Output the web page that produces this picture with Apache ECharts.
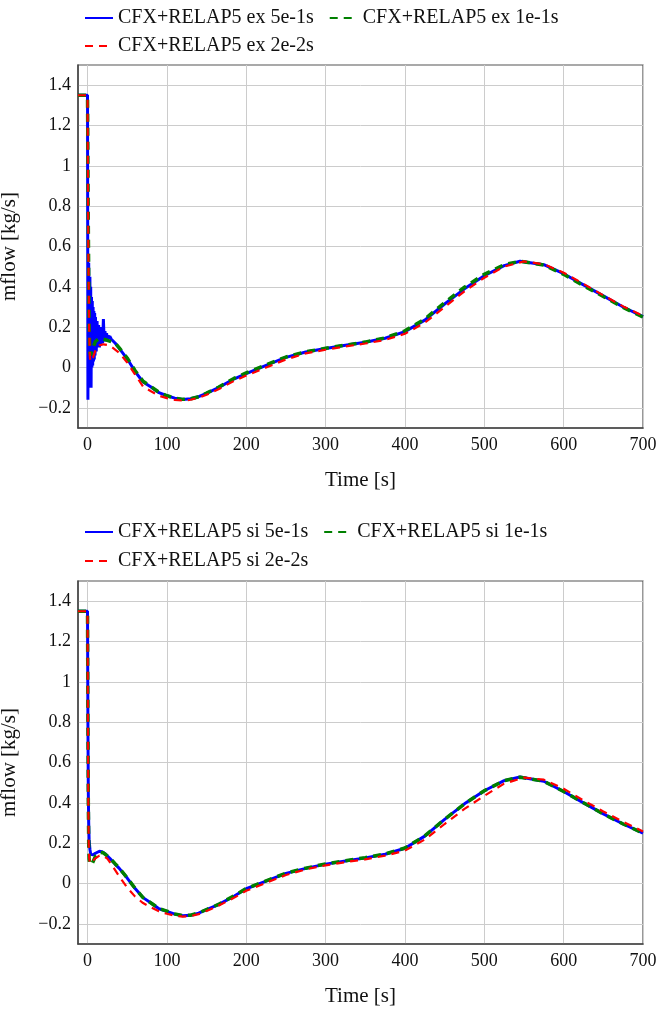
<!DOCTYPE html>
<html>
<head>
<meta charset="utf-8">
<script src="https://cdn.jsdelivr.net/npm/echarts@6/dist/echarts.min.js"></script>
<style>
  html, body { margin: 0; padding: 0; background: #fff; }
  #chart { width: 659px; height: 1009px; }
</style>
</head>
<body>
<div id="chart"></div>
<script>
// ---------- data ----------
const xTicks = [0, 100, 200, 300, 400, 500, 600, 700];
const yTicks = [-0.2, 0, 0.2, 0.4, 0.6, 0.8, 1, 1.2, 1.4];

const namesEx = ['CFX+RELAP5 ex 5e-1s', 'CFX+RELAP5 ex 1e-1s', 'CFX+RELAP5 ex 2e-2s'];
const namesSi = ['CFX+RELAP5 si 5e-1s', 'CFX+RELAP5 si 1e-1s', 'CFX+RELAP5 si 2e-2s'];

const exBlue = [[-12,1.35],[0,1.35],[0.5,-0.16],[1,0.3],[1.5,0.52],[2,0.1],[2.5,-0.1],[3,0.45],[3.5,-0.05],[4,0.4],[4.5,-0.1],[5,0.35],[5.5,0.0],[6,0.33],[6.5,0.01],[7,0.3],[7.5,0.03],[8,0.28],[8.5,0.04],[9,0.27],[9.5,0.06],[10,0.25],[11,0.08],[12,0.23],[13,0.1],[14,0.21],[15,0.1],[16,0.2],[17,0.11],[18,0.2],[19,0.12],[20,0.24],[21,0.13],[22,0.18],[23,0.13],[24,0.17],[25,0.14],[26,0.16],[27,0.14],[28,0.155],[30,0.14],[35,0.12],[40,0.095],[50,0.043],[60,-0.02],[70,-0.072],[80,-0.097],[90,-0.125],[100,-0.14],[110,-0.152],[120,-0.159],[130,-0.155],[140,-0.145],[150,-0.128],[165,-0.1],[185,-0.056],[200,-0.03],[225,0.01],[250,0.05],[275,0.077],[300,0.094],[325,0.11],[350,0.125],[375,0.145],[400,0.178],[425,0.235],[450,0.315],[475,0.39],[500,0.455],[525,0.505],[545,0.527],[575,0.51],[600,0.465],[625,0.41],[650,0.355],[675,0.3],[700,0.252]];
const exGreen = [[-12,1.35],[0,1.35],[1,0.7],[2,0.2],[3,0.07],[4,0.06],[5,0.08],[7,0.1],[10,0.13],[15,0.145],[20,0.14],[25,0.135],[30,0.128],[35,0.12],[40,0.097],[50,0.047],[60,-0.016],[70,-0.068],[80,-0.095],[90,-0.123],[100,-0.14],[110,-0.152],[120,-0.158],[130,-0.155],[140,-0.145],[150,-0.127],[165,-0.098],[185,-0.053],[200,-0.027],[225,0.013],[250,0.052],[275,0.078],[300,0.095],[325,0.111],[350,0.126],[375,0.147],[400,0.182],[425,0.24],[450,0.322],[475,0.398],[500,0.462],[525,0.51],[545,0.527],[575,0.508],[600,0.462],[625,0.406],[650,0.352],[675,0.298],[700,0.25]];
const exRed = [[-12,1.35],[0,1.35],[1,0.6],[2,0.2],[3,0.05],[4,0.03],[5,0.03],[7,0.05],[10,0.085],[15,0.11],[20,0.115],[25,0.112],[30,0.103],[40,0.073],[50,0.025],[60,-0.035],[70,-0.095],[80,-0.118],[90,-0.14],[100,-0.152],[110,-0.161],[120,-0.164],[130,-0.16],[140,-0.15],[150,-0.135],[165,-0.108],[185,-0.066],[200,-0.04],[225,0.0],[250,0.04],[275,0.07],[300,0.088],[325,0.104],[350,0.119],[375,0.137],[400,0.167],[425,0.222],[450,0.3],[475,0.378],[500,0.445],[525,0.5],[550,0.526],[575,0.512],[600,0.47],[625,0.415],[650,0.358],[675,0.303],[700,0.256]];

const siBlue = [[-12,1.35],[0,1.35],[0.5,0.8],[1,0.45],[1.5,0.3],[2,0.22],[3,0.17],[4,0.145],[5,0.14],[7,0.142],[10,0.15],[15,0.16],[18,0.158],[22,0.148],[28,0.125],[35,0.095],[40,0.075],[50,0.027],[60,-0.025],[70,-0.07],[80,-0.097],[90,-0.125],[100,-0.138],[110,-0.152],[120,-0.16],[130,-0.158],[140,-0.147],[150,-0.13],[165,-0.105],[185,-0.062],[200,-0.026],[225,0.012],[250,0.05],[275,0.075],[300,0.096],[325,0.112],[350,0.127],[375,0.145],[400,0.175],[425,0.235],[450,0.318],[475,0.395],[500,0.46],[525,0.51],[545,0.528],[575,0.507],[600,0.456],[625,0.4],[650,0.345],[675,0.295],[700,0.25]];
const siGreen = [[-12,1.35],[0,1.35],[0.5,0.85],[1,0.4],[1.5,0.2],[2,0.12],[3,0.095],[4,0.09],[6,0.1],[10,0.135],[15,0.155],[20,0.152],[28,0.127],[35,0.097],[40,0.077],[50,0.028],[60,-0.024],[70,-0.07],[80,-0.097],[90,-0.124],[100,-0.137],[110,-0.151],[120,-0.159],[130,-0.157],[140,-0.146],[150,-0.129],[165,-0.104],[185,-0.06],[200,-0.025],[225,0.013],[250,0.051],[275,0.076],[300,0.097],[325,0.113],[350,0.128],[375,0.146],[400,0.176],[425,0.236],[450,0.318],[475,0.395],[500,0.46],[525,0.51],[545,0.527],[575,0.507],[600,0.456],[625,0.4],[650,0.345],[675,0.295],[700,0.25]];
const siRed = [[-12,1.35],[0,1.35],[0.5,0.8],[1,0.4],[1.5,0.2],[2,0.13],[3,0.1],[4,0.1],[6,0.11],[10,0.125],[15,0.138],[20,0.137],[25,0.123],[30,0.095],[40,0.035],[50,-0.02],[60,-0.065],[70,-0.097],[80,-0.118],[90,-0.138],[100,-0.15],[110,-0.16],[120,-0.164],[130,-0.162],[140,-0.152],[150,-0.136],[165,-0.11],[185,-0.07],[200,-0.036],[225,0.003],[250,0.042],[275,0.07],[300,0.09],[325,0.106],[350,0.12],[375,0.138],[400,0.163],[425,0.218],[450,0.295],[475,0.37],[500,0.435],[525,0.495],[550,0.525],[575,0.515],[600,0.47],[625,0.412],[650,0.357],[675,0.306],[700,0.258]];

// ---------- styling ----------
const FONT = '"Liberation Serif", "Times New Roman", serif';
const textCol = '#111';

function fmtY(v) {
  const r = Math.round(v * 10) / 10;
  if (r === 0) return '0';
  return (r < 0 ? '\u2212' : '') + String(Math.abs(r));
}

function xAxisFor(gi) {
  return {
    type: 'value', gridIndex: gi, min: -12, max: 700,
    name: 'Time [s]', nameLocation: 'middle', nameGap: 42,
    nameTextStyle: { fontFamily: FONT, fontSize: 21, color: textCol },
    axisLine: { show: true, onZero: false, lineStyle: { color: '#444', width: 1.5 } },
    axisTick: { show: false, customValues: xTicks },
    axisLabel: { customValues: xTicks, fontFamily: FONT, fontSize: 18, color: textCol, margin: 8 },
    splitLine: { show: true, lineStyle: { color: '#cccccc', width: 1 } }
  };
}
function yAxisFor(gi) {
  return {
    type: 'value', gridIndex: gi, min: -0.3, max: 1.5,
    name: 'mflow [kg/s]', nameLocation: 'middle', nameGap: 58, nameRotate: 90,
    nameTextStyle: { fontFamily: FONT, fontSize: 21, color: textCol },
    axisLine: { show: true, onZero: false, lineStyle: { color: '#444', width: 1.5 } },
    axisTick: { show: false, customValues: yTicks },
    axisLabel: { customValues: yTicks, formatter: fmtY, fontFamily: FONT, fontSize: 18, color: textCol, margin: 7 },
    splitLine: { show: true, lineStyle: { color: '#cccccc', width: 1 } }
  };
}
function lineSeries(name, data, gi, color, width, type, z) {
  return {
    name: name, type: 'line', xAxisIndex: gi, yAxisIndex: gi,
    data: data, showSymbol: false, symbol: 'none', smooth: false,
    animation: false, z: z,
    lineStyle: { color: color, width: width, type: type },
    itemStyle: { color: color }
  };
}
function legendFor(names, left, top) {
  return {
    data: names, left: left, top: top, orient: 'horizontal', padding: 0,
    itemWidth: 28, itemHeight: 14, itemGap: 15,
    itemStyle: { opacity: 0 },
    textStyle: { fontFamily: FONT, fontSize: 20, color: textCol, lineHeight: 20 }
  };
}

const option = {
  backgroundColor: '#ffffff',
  animation: false,
  legend: [
    legendFor([namesEx[0], namesEx[1]], 84, 8),
    legendFor([namesEx[2]], 84, 36),
    legendFor([namesSi[0], namesSi[1]], 84, 522),
    legendFor([namesSi[2]], 84, 551)
  ],
  grid: [
    { left: 78, top: 65, width: 565, height: 363, show: true, borderColor: '#555', borderWidth: 1.2, containLabel: false, outerBoundsMode: 'none' },
    { left: 78, top: 581, width: 565, height: 363, show: true, borderColor: '#555', borderWidth: 1.2, containLabel: false, outerBoundsMode: 'none' }
  ],
  xAxis: [xAxisFor(0), xAxisFor(1)],
  yAxis: [yAxisFor(0), yAxisFor(1)],
  series: [
    lineSeries(namesEx[0], exBlue, 0, '#0000ff', 3, 'solid', 2),
    lineSeries(namesEx[1], exGreen, 0, '#008000', 3.5, [8, 6], 3),
    lineSeries(namesEx[2], exRed, 0, '#ff0000', 2.2, [8, 6], 4),
    lineSeries(namesSi[0], siBlue, 1, '#0000ff', 3, 'solid', 2),
    lineSeries(namesSi[1], siGreen, 1, '#008000', 3.5, [8, 6], 3),
    lineSeries(namesSi[2], siRed, 1, '#ff0000', 2.2, [8, 6], 4)
  ]
};

const chart = echarts.init(document.getElementById('chart'), null, { renderer: 'canvas' });
chart.setOption(option);
</script>
</body>
</html>
